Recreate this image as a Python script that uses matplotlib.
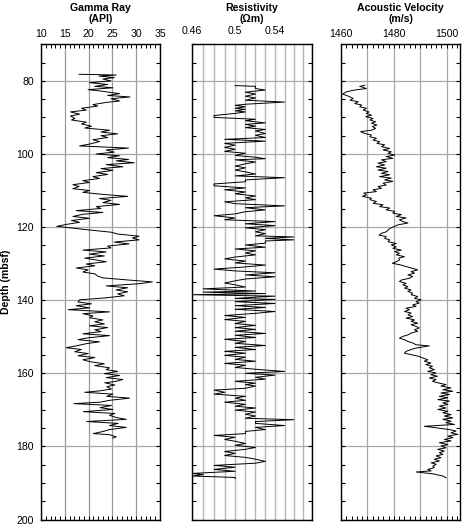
import matplotlib
matplotlib.use("Agg")
import matplotlib.pyplot as plt
from matplotlib.ticker import MultipleLocator, FixedLocator, FuncFormatter, NullLocator

plt.rcParams['font.family'] = ['Liberation Sans', 'DejaVu Sans']

# ---------------- data ----------------
gamma_depth = [78.2, 78.4, 78.7, 79.1, 79.5, 80.0, 80.5, 81.0, 81.5, 81.9, 82.4, 82.8, 83.5, 84.0, 84.4,
               84.9, 85.5, 85.9, 86.5, 86.9, 87.5, 88.0, 88.5, 89.1, 89.6, 90.3, 90.7, 91.3, 91.8, 92.4,
               92.9, 93.5, 94.0, 94.5, 95.0, 95.5, 96.1, 96.6, 97.3, 97.8, 98.4, 98.9, 99.5, 100.0, 100.5,
               101.0, 101.5, 101.9, 102.4, 102.9, 103.5, 104.0, 104.5, 105.1, 105.6, 106.2, 106.7, 107.3,
               107.8, 108.4, 108.9, 109.5, 110.0, 110.5, 111.1, 111.6, 112.2, 112.7, 113.3, 113.8, 114.4,
               114.9, 115.5, 116.0, 116.5, 117.1, 117.6, 118.2, 118.7, 119.3, 119.8, 120.4, 120.8, 121.4,
               121.9, 122.5, 123.0, 123.5, 124.1, 124.6, 125.2, 125.7, 126.3, 126.8, 127.4, 127.9, 128.5,
               129.0, 129.5, 130.1, 130.6, 131.2, 131.7, 132.3, 132.8, 133.4, 133.9, 134.5, 135.0, 135.5,
               136.1, 136.6, 137.2, 137.7, 138.3, 138.8, 139.4, 139.9, 140.5, 141.0, 141.5, 142.1, 142.6,
               143.2, 143.7, 144.3, 144.8, 145.4, 145.9, 146.5, 147.0, 147.5, 148.1, 148.6, 149.2, 149.7,
               150.3, 150.8, 151.4, 151.9, 152.5, 153.0, 153.5, 154.1, 154.6, 155.2, 155.7, 156.3, 156.8,
               157.4, 157.9, 158.5, 159.0, 159.5, 160.1, 160.6, 161.2, 161.7, 162.2, 162.6, 163.2, 163.7,
               164.3, 164.8, 165.2, 165.7, 166.3, 166.8, 167.4, 167.9, 168.3, 168.8, 169.4, 169.9, 170.5,
               171.0, 171.5, 172.1, 172.6, 173.2, 173.7, 174.3, 174.8, 175.4, 175.9, 176.5, 176.8, 177.4,
               177.7]
gamma_api = [18.0, 25.8, 22.2, 25.4, 23.0, 24.7, 20.2, 24.0, 21.3, 25.1, 19.9, 22.6, 26.5, 24.0, 28.7,
             24.7, 26.5, 23.7, 20.9, 21.9, 18.5, 19.5, 16.2, 18.1, 16.2, 17.1, 16.4, 19.5, 18.5, 20.6,
             19.2, 24.4, 22.6, 26.1, 22.6, 24.0, 20.9, 22.3, 20.2, 18.1, 28.4, 23.7, 25.4, 21.6, 26.5,
             24.0, 28.4, 25.8, 29.6, 23.7, 27.2, 22.6, 25.1, 21.6, 24.0, 20.9, 22.3, 18.8,
             20.2, 16.7, 18.0, 16.7, 20.2, 18.8, 23.3, 28.2, 22.3, 24.7, 23.0, 26.5, 21.6,
             22.6, 17.4, 23.0, 18.8, 16.7, 20.2, 16.4, 18.1, 15.2, 13.3, 17.4, 20.2, 24.7,
             26.1, 30.6, 29.2, 30.6, 25.4, 28.5, 24.0, 24.7, 18.8, 23.7, 20.2, 23.3, 19.2,
             21.6, 23.7, 19.5, 21.3, 17.4, 19.9, 18.8, 21.3, 21.9, 23.0, 28.5, 33.4, 30.6,
             23.7, 28.2, 25.8, 28.2, 26.1, 27.5, 23.3, 18.1, 17.8, 20.6, 17.4, 20.2, 15.7,
             24.4, 18.8, 20.9, 20.2, 23.0, 21.3, 23.3, 20.2, 24.0, 21.3, 22.6, 18.8, 24.4,
             19.9, 17.8, 22.3, 19.5, 17.4, 15.3, 18.5, 17.1, 19.9, 17.8, 21.3, 18.8, 20.2,
             23.3, 21.3, 24.4, 23.7, 26.1, 23.3, 26.5, 23.7, 27.2, 25.8, 23.4, 25.5, 23.8,
             24.8, 22.4, 19.2, 25.1, 23.8, 28.6, 24.4, 22.4, 16.9, 24.8, 22.4, 25.1, 18.9,
             25.5, 24.4, 25.8, 27.9, 19.6, 26.2, 24.4, 27.9, 24.4, 23.1, 21.0, 24.4, 25.8,
             25.1]

res_depth = [81.3, 81.5, 82.1, 82.5, 83.1, 83.6, 84.2, 84.7, 85.3, 85.8, 86.4, 86.7, 87.1, 87.5, 87.8,
             88.2, 88.5, 88.9, 89.5, 90.0, 90.5, 90.9, 91.5, 91.9, 92.4, 92.8, 93.3, 93.7, 94.4, 94.9,
             95.5, 96.0, 96.5, 97.1, 97.6, 98.2, 98.7, 99.3, 99.8, 100.4, 100.9, 101.3, 101.6, 102.2,
             102.7, 103.3, 103.8, 104.4, 104.9, 105.5, 106.0, 106.5, 107.1, 107.6, 108.2, 108.7, 109.3,
             109.8, 110.4, 110.9, 111.5, 112.0, 112.5, 113.1, 113.6, 114.2, 114.7, 115.3, 115.8, 116.4,
             116.9, 117.5, 118.0, 118.5, 119.1, 119.6, 120.2, 120.7, 121.3, 121.8, 122.4, 122.7, 123.1,
             123.5, 123.8, 124.4, 124.9, 125.5, 126.0, 126.5, 127.1, 127.6, 128.2, 128.7, 129.3, 129.8,
             130.4, 130.9, 131.5, 132.0, 132.5, 133.1, 133.6, 134.2, 134.7, 135.3, 135.8, 136.4, 136.9,
             137.5, 137.8, 138.2, 138.5, 138.9, 139.5, 139.8, 140.4, 140.9, 141.5, 142.0, 142.5, 143.1,
             143.6, 144.2, 144.7, 145.3, 145.8, 146.4, 146.9, 147.5, 148.0, 148.5, 149.1, 149.6, 150.2,
             150.7, 151.3, 151.8, 152.4, 152.9, 153.5, 154.0, 154.5, 155.1, 155.6, 156.2, 156.7, 157.3,
             157.8, 158.4, 158.9, 159.5, 160.0, 160.5, 161.1, 161.6, 162.2, 162.7, 163.1, 163.5, 164.1,
             164.6, 165.2, 165.7, 166.3, 166.8, 167.4, 167.9, 168.5, 169.0, 169.5, 170.1, 170.6, 171.2,
             171.7, 172.3, 172.7, 173.2, 173.7, 174.3, 174.8, 175.4, 175.9, 176.5, 177.0, 177.5, 178.1,
             178.6, 179.2, 179.7, 180.3, 180.8, 181.4, 181.9, 182.5, 183.0, 183.5, 184.1, 184.6, 185.2,
             185.7, 186.3, 186.8, 187.4, 187.7, 188.1, 188.5, 188.8]
res_ohmm = [0.50, 0.52, 0.52, 0.53, 0.51, 0.52, 0.51, 0.52, 0.51, 0.55, 0.51, 0.50, 0.51, 0.50, 0.51,
            0.50, 0.51, 0.50, 0.48, 0.48, 0.52, 0.51, 0.53, 0.51, 0.52, 0.51, 0.53, 0.52, 0.53, 0.52,
            0.53, 0.49, 0.53, 0.49, 0.50, 0.49, 0.50, 0.49, 0.51, 0.50, 0.52, 0.53, 0.50, 0.52,
            0.51, 0.50, 0.51, 0.50, 0.51, 0.52, 0.50, 0.55, 0.51, 0.51, 0.48, 0.48, 0.51,
            0.49, 0.51, 0.50, 0.52, 0.51, 0.52, 0.49, 0.50, 0.55, 0.51, 0.53, 0.51, 0.50,
            0.48, 0.50, 0.49, 0.54, 0.51, 0.54, 0.51, 0.53, 0.52, 0.53, 0.52, 0.56, 0.53,
            0.56, 0.53, 0.53, 0.51, 0.53, 0.50, 0.52, 0.51, 0.52, 0.50, 0.49, 0.51, 0.50,
            0.53, 0.51, 0.48, 0.50, 0.54, 0.51, 0.54, 0.51, 0.50, 0.49, 0.50, 0.51, 0.47,
            0.52, 0.47, 0.53, 0.46, 0.54, 0.50, 0.54, 0.50, 0.54, 0.50, 0.53, 0.50, 0.54,
            0.52, 0.49, 0.51, 0.49, 0.51, 0.50, 0.52, 0.50, 0.52, 0.50, 0.53, 0.50, 0.52,
            0.49, 0.51, 0.50, 0.53, 0.50, 0.52, 0.49, 0.51, 0.49, 0.51, 0.50, 0.52, 0.49,
            0.51, 0.50, 0.52, 0.55, 0.51, 0.54, 0.52, 0.53, 0.50, 0.52, 0.51, 0.52, 0.51,
            0.48, 0.49, 0.48, 0.51, 0.50, 0.51, 0.49, 0.51, 0.50, 0.52, 0.50, 0.52, 0.51,
            0.52, 0.51, 0.56, 0.52, 0.52, 0.55, 0.52, 0.53, 0.51, 0.51, 0.48, 0.50, 0.49,
            0.50, 0.51, 0.50, 0.52, 0.51, 0.49, 0.50, 0.49, 0.51, 0.52, 0.53, 0.52, 0.48,
            0.50, 0.48, 0.50, 0.46, 0.47, 0.46, 0.50, 0.50]

vel_depth = [81.2, 81.5, 82.1, 82.5, 83.0, 83.6, 84.2, 84.8, 85.3, 85.7, 86.2, 86.6, 87.1, 87.5, 88.0,
             88.5, 88.9, 89.4, 89.8, 90.3, 90.7, 91.2, 91.6, 92.1, 92.5, 93.0, 93.5, 93.9, 94.4, 94.8,
             95.3, 95.7, 96.2, 96.6, 97.1, 97.5, 98.0, 98.5, 98.9, 99.4, 99.8, 100.3, 100.7, 101.2,
             101.6, 102.1, 102.5, 103.0, 103.5, 103.9, 104.4, 104.8, 105.3, 105.7, 106.2, 106.6, 107.1,
             107.5, 108.0, 108.5, 108.9, 109.4, 109.8, 110.3, 110.7, 111.2, 111.6, 112.1, 112.5, 113.0,
             113.5, 113.9, 114.4, 114.8, 115.3, 115.7, 116.2, 116.6, 117.1, 117.5, 118.0, 118.5, 118.9,
             119.4, 119.8, 120.4, 120.8, 121.3, 121.7, 122.2, 122.6, 123.1, 123.5, 124.0, 124.5, 124.9,
             125.4, 125.8, 126.3, 126.7, 127.2, 127.6, 128.1, 128.5, 129.0, 129.5, 129.9, 130.4, 130.8,
             131.3, 131.7, 132.2, 132.6, 133.1, 133.5, 134.0, 134.5, 134.9, 135.4, 135.8, 136.3, 136.7,
             137.2, 137.6, 138.1, 138.5, 139.0, 139.5, 139.9, 140.4, 140.8, 141.3, 141.7, 142.2, 142.6,
             143.1, 143.5, 144.0, 144.5, 144.9, 145.4, 145.8, 146.3, 146.7, 147.2, 147.6, 148.1, 148.5,
             149.0, 149.5, 149.9, 150.4, 150.8, 151.3, 151.7, 152.2, 152.5, 153.1, 153.5, 154.0, 154.5,
             154.9, 155.4, 155.8, 156.3, 156.7, 157.2, 157.6, 158.1, 158.5, 159.0, 159.5, 159.9, 160.4,
             160.8, 161.3, 161.7, 162.2, 162.6, 163.1, 163.5, 164.0, 164.5, 164.9, 165.4, 165.8, 166.3,
             166.7, 167.2, 167.6, 168.1, 168.5, 169.0, 169.5, 169.9, 170.4, 170.8, 171.3, 171.7, 172.2,
             172.6, 173.1, 173.5, 174.0, 174.5, 174.9, 175.4, 175.8, 176.3, 176.7, 177.2, 177.6, 178.1,
             178.5, 179.0, 179.5, 179.9, 180.4, 180.8, 181.3, 181.7, 182.2, 182.6, 183.1, 183.5, 184.0,
             184.5, 184.9, 185.4, 185.8, 186.3, 186.7, 187.0, 187.5, 188.1, 188.6]
vel_ms = [1469.0, 1467.1, 1469.6, 1465.2, 1462.1, 1460.6, 1462.8, 1464.6, 1463.4, 1466.5, 1465.2, 1467.8,
          1467.1, 1469.6, 1468.4, 1470.6, 1469.6, 1471.5, 1469.4, 1472.1, 1470.9, 1473.1, 1471.5, 1473.6,
          1471.9, 1473.1, 1471.5, 1467.4, 1469.0, 1471.5, 1470.9, 1473.4, 1472.1, 1474.6, 1473.6, 1476.5,
          1475.3, 1478.4, 1475.9, 1479.0, 1477.8, 1480.3, 1477.1, 1479.6, 1475.3, 1477.1, 1474.0, 1476.5,
          1473.4, 1477.1, 1474.0, 1477.8, 1475.3, 1478.4, 1474.6, 1479.0, 1476.5, 1479.6, 1475.9, 1477.1,
          1474.0, 1475.3, 1472.1, 1473.4, 1468.6, 1469.6, 1468.1, 1471.5, 1470.9, 1473.4, 1472.1, 1475.9,
          1474.6, 1478.4, 1477.1, 1480.3, 1479.6, 1482.8, 1480.9, 1484.6, 1482.1, 1483.4, 1485.3, 1481.5,
          1480.3, 1478.4, 1477.8, 1477.1, 1475.3, 1474.4, 1477.1, 1476.5, 1478.4, 1477.8, 1480.9, 1479.0,
          1480.9, 1479.6, 1482.8, 1480.3, 1482.1, 1480.9, 1484.0, 1481.9, 1482.1, 1480.9, 1479.4, 1482.8,
          1484.6, 1487.1, 1489.0, 1486.5, 1487.8, 1485.3, 1487.1, 1485.9, 1482.8, 1482.1, 1484.6, 1483.4,
          1485.3, 1484.0, 1486.5, 1485.3, 1487.1, 1486.5, 1489.0, 1487.8, 1490.3, 1488.4, 1489.6, 1487.1,
          1488.4, 1484.6, 1485.9, 1484.0, 1486.5, 1485.3, 1487.1, 1484.6, 1487.8, 1486.5, 1489.0, 1486.5,
          1488.4, 1489.6, 1487.8, 1489.0, 1486.5, 1485.3, 1483.4, 1482.1, 1484.0, 1485.3, 1487.1, 1488.4,
          1493.4, 1488.4, 1486.5, 1484.6, 1484.0, 1486.5, 1489.6, 1490.9, 1492.8, 1491.5, 1494.0, 1492.1,
          1494.6, 1493.4, 1495.3, 1492.8, 1495.9, 1494.0, 1496.5, 1493.4, 1495.9, 1494.6, 1496.6, 1499.7,
          1497.8, 1501.6, 1498.5, 1502.3, 1497.8, 1501.0, 1497.2, 1500.4, 1496.6, 1501.0, 1498.5, 1500.4,
          1497.2, 1499.7, 1496.6, 1500.4, 1498.5, 1501.6, 1499.1, 1502.3, 1498.5, 1501.6, 1499.7, 1502.9,
          1491.5, 1496.0, 1501.0, 1503.5, 1501.6, 1504.2, 1500.4, 1502.3, 1499.1, 1501.6, 1497.2, 1500.4,
          1497.8, 1499.7, 1496.6, 1499.1, 1497.2, 1498.5, 1496.0, 1497.8, 1495.3, 1497.2, 1494.1, 1496.0,
          1494.7, 1495.3, 1492.8, 1494.1, 1488.4, 1494.7, 1498.5, 1499.7]

depth_ticks = [80, 100, 120, 140, 160, 180, 200]
gamma_ticks = [10, 15, 20, 25, 30, 35]
res_grid = [0.46, 0.47, 0.48, 0.49, 0.50, 0.51, 0.52, 0.53, 0.54, 0.55, 0.56, 0.57, 0.58]
res_labels = [0.46, 0.50, 0.54]
vel_grid = [1460, 1470, 1480, 1490, 1500]
vel_labels = [1460, 1480, 1500]

titles = ["Gamma Ray\n(API)", "Resistivity\n(\u03a9m)", "Acoustic Velocity\n(m/s)"]

# ---------------- layout ----------------
W, H = 462, 528
fig = plt.figure(figsize=(W / 100, H / 100), dpi=100)
top_px, bot_px = 44.3, 519.5
panels_px = [(41, 160), (192, 312), (341, 460)]
axes = []
for (l, r) in panels_px:
    ax = fig.add_axes([l / W, 1 - bot_px / H, (r - l) / W, (bot_px - top_px) / H])
    axes.append(ax)

grid_col = '#9a9a9a'
tick_fs = 7.6
for i, ax in enumerate(axes):
    ax.set_ylim(200, 70)
    ax.yaxis.set_major_locator(FixedLocator(depth_ticks))
    ax.yaxis.set_minor_locator(MultipleLocator(5))
    ax.tick_params(axis='y', which='both', direction='in', left=True, right=True,
                   length=3, width=0.8, labelsize=tick_fs, pad=5)
    if i > 0:
        ax.tick_params(axis='y', labelleft=False)
    ax.xaxis.tick_top()
    ax.grid(True, axis='y', which='major', color='#a8a8a8', lw=0.9)
    for s in ax.spines.values():
        s.set_linewidth(1.0)
        s.set_color('black')
    ax.set_axisbelow(True)
    cx = (panels_px[i][0] + panels_px[i][1]) / 2 / W
    fig.text(cx, 1 - 13.5 / H, titles[i], ha='center', va='center', fontsize=7.6,
             fontweight='bold', linespacing=1.15)

# Gamma ray
ax = axes[0]
ax.plot(gamma_api, gamma_depth, color='black', lw=0.7)
ax.set_xlim(10, 35)
ax.xaxis.set_major_locator(FixedLocator(gamma_ticks))
ax.xaxis.set_minor_locator(MultipleLocator(1))
ax.tick_params(axis='x', which='both', direction='in', top=True, bottom=True,
               length=3, width=0.7, labelsize=tick_fs, pad=4)
ax.grid(True, axis='x', which='major', color=grid_col, lw=0.9)
ax.set_ylabel('Depth (mbsf)', fontsize=7.6, fontweight='bold', labelpad=4)

# Resistivity (log scale)
ax = axes[1]
ax.plot(res_ohmm, res_depth, color='black', lw=0.7)
ax.set_xscale('log')
ax.set_xlim(0.46, 0.58)
ax.xaxis.set_major_locator(FixedLocator(res_grid))
ax.xaxis.set_minor_locator(NullLocator())
ax.xaxis.set_major_formatter(FuncFormatter(
    lambda v, p: ('%g' % round(v, 2)) if any(abs(v - r) < 1e-6 for r in res_labels) else ''))
ax.tick_params(axis='x', which='both', top=True, bottom=False, length=0,
               labelsize=tick_fs, pad=6)
ax.grid(True, axis='x', which='major', color='#b5b5b5', lw=1.0)

# Acoustic velocity
ax = axes[2]
ax.plot(vel_ms, vel_depth, color='black', lw=0.7)
ax.set_xlim(1460, 1505)
ax.xaxis.set_major_locator(FixedLocator(vel_grid))
ax.xaxis.set_minor_locator(MultipleLocator(2))
ax.xaxis.set_major_formatter(FuncFormatter(
    lambda v, p: '%d' % v if int(round(v)) in vel_labels else ''))
ax.tick_params(axis='x', which='both', direction='in', top=True, bottom=True,
               length=3, width=0.7, labelsize=tick_fs, pad=4)
ax.grid(True, axis='x', which='major', color='#a8a8a8', lw=0.9)

fig.savefig('out.png', dpi=100)
